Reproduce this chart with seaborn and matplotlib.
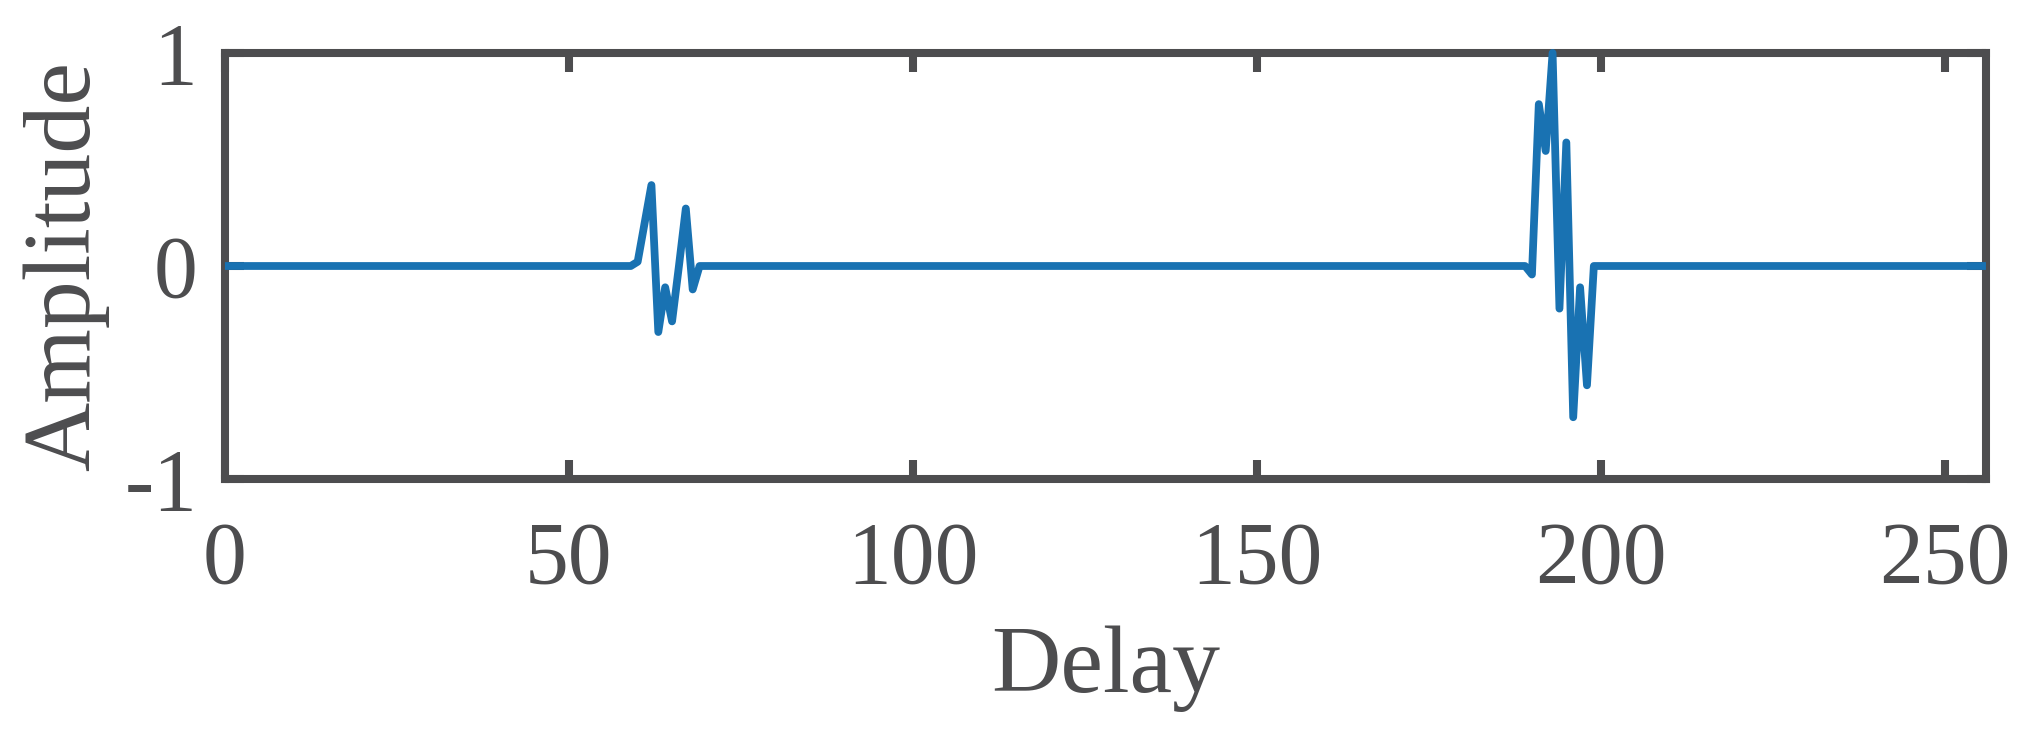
import matplotlib
matplotlib.use("Agg")
import matplotlib.pyplot as plt
import seaborn as sns
import pandas as pd

# ---- data ----
delay = [0, 59, 60, 61, 62, 63, 64, 65, 66, 67, 68, 69,
         189, 190, 191, 192, 193, 194, 195, 196, 197, 198, 199, 256]
amplitude = [0.0, 0.0, 0.02, 0.20, 0.38, -0.31, -0.10, -0.26, 0.0, 0.27, -0.11, 0.0,
             0.0, -0.04, 0.76, 0.54, 1.0, -0.20, 0.58, -0.71, -0.10, -0.56, 0.0, 0.0]
x_ticks = [0, 50, 100, 150, 200, 250]
y_ticks = [-1, 0, 1]
y_ticklabels = ["-1", "0", "1"]
x_label = "Delay"
y_label = "Amplitude"

df = pd.DataFrame({"Delay": delay, "Amplitude": amplitude})

sns.set_theme(style="white")
plt.rcParams["font.family"] = ["Liberation Serif", "DejaVu Serif"]
plt.rcParams["axes.unicode_minus"] = False

grey = "#4d4d4f"
blue = "#1972b2"

fig = plt.figure(figsize=(20.3, 7.34), dpi=100)
ax = fig.add_axes([0.1108, 0.3474, 0.9783 - 0.1108, 0.9278 - 0.3474])

sns.lineplot(data=df, x="Delay", y="Amplitude", ax=ax, color=blue,
             linewidth=5.6, estimator=None, sort=True)
for ln in ax.lines:
    ln.set_clip_on(False)
    ln.set_zorder(3)
    ln.set_solid_joinstyle("round")
    ln.set_solid_capstyle("butt")

ax.set_xlim(0, 256)
ax.set_ylim(-1, 1)
ax.set_xticks(x_ticks)
ax.set_yticks(y_ticks)
ax.set_yticklabels(y_ticklabels)

for sp in ax.spines.values():
    sp.set_visible(True)
    sp.set_color(grey)
    sp.set_linewidth(5.8)

ax.tick_params(axis="both", which="major", direction="in", length=13.7,
               width=5.8, color=grey, labelcolor=grey, labelsize=63,
               top=True, right=True, left=True, bottom=True)
ax.tick_params(axis="x", pad=30)
ax.tick_params(axis="y", pad=20)

ax.set_xlabel(x_label, fontsize=69, color=grey, labelpad=17)
ax.set_ylabel(y_label, fontsize=69, color=grey, labelpad=11)

fig.savefig("out.png", dpi=100, facecolor="white")
